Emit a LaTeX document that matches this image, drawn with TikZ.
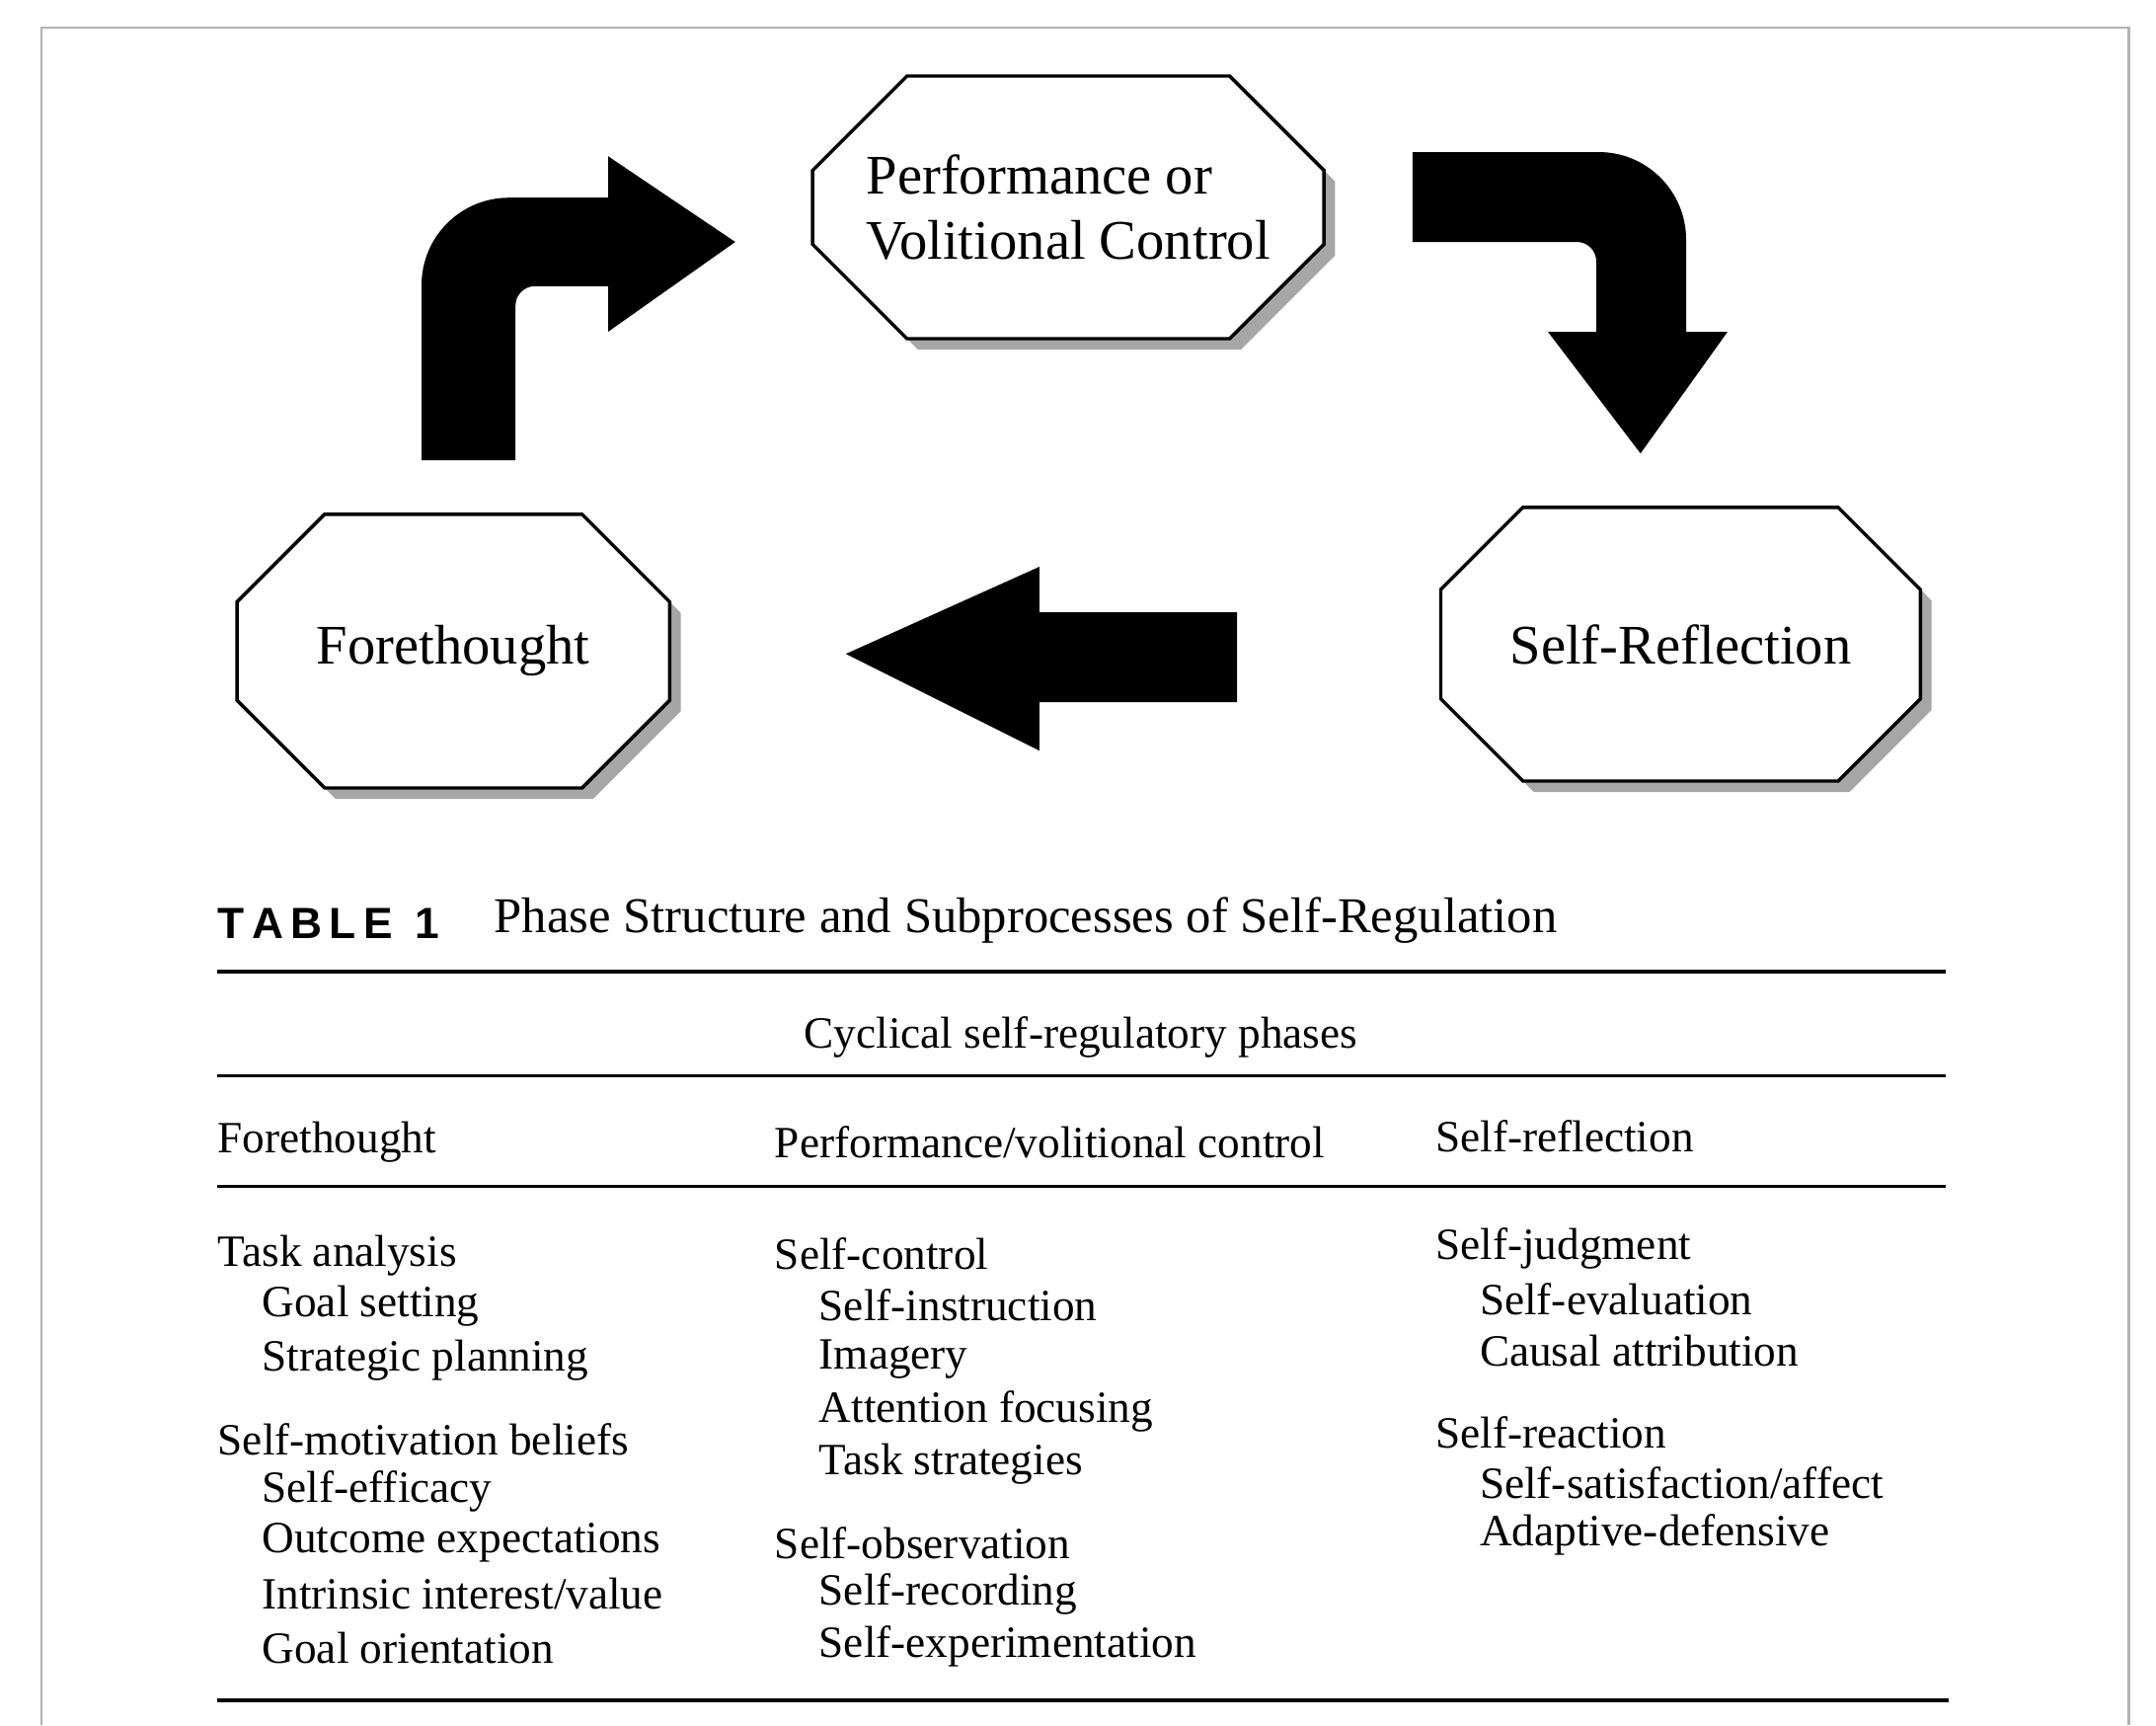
\documentclass[tikz,border=0pt]{standalone}
\usepackage{fontspec}
\setmainfont{Liberation Serif}
\newfontfamily\capfont{Liberation Sans}
\usetikzlibrary{shapes.misc,shadows}

\tikzset{
  phase/.style={chamfered rectangle, draw=black, line width=0.7pt, fill=white,
    chamfered rectangle xsep=4.5mm, chamfered rectangle ysep=4.5mm,
    inner sep=0pt, align=left, font=\fontsize{11.5}{13.5}\selectfont,
    drop shadow={shadow xshift=0.8mm, shadow yshift=-0.8mm, fill=gray!70, opacity=1}},
  bigarrow/.style={fill=black, draw=none},
  entry/.style={anchor=west, inner sep=0pt, font=\fontsize{9.2}{11}\selectfont},
  rule/.style={line width=0.9pt}
}

\begin{document}
\begin{tikzpicture}[x=0.1mm,y=-0.1mm]
  \useasboundingbox (0,0) rectangle (1560,1248);
  %Frame
  \draw[gray!60, line width=0.6pt] (30,1248) -- (30,20) -- (1540,20) -- (1540,1248);

  %Phases
  \node[phase, minimum width=37mm, minimum height=19mm, chamfered rectangle ysep=3mm] (perf) at (773,150) {Performance or\\Volitional Control};
  \node[phase, minimum width=31.3mm, minimum height=19.8mm] (fore) at (328,471) {Forethought};
  \node[phase, minimum width=34.7mm, minimum height=19.8mm] (refl) at (1216,466) {Self-Reflection};

  %Arrows
  \fill[bigarrow] (305,333) [rounded corners=18pt] -- (305,143) [sharp corners] -- (440,143) -- (440,113)
    -- (532,175) -- (440,240) -- (440,207) [rounded corners=4pt] -- (373,207) [sharp corners] -- (373,333) -- cycle;
  \fill[bigarrow] (1022,110) [rounded corners=18pt] -- (1220,110) [sharp corners] -- (1220,240) -- (1250,240)
    -- (1187,328) -- (1120,240) -- (1155,240) [rounded corners=4pt] -- (1155,175) [sharp corners] -- (1022,175) -- cycle;
  \fill[bigarrow] (895,443) -- (752,443) -- (752,410) -- (612,473) -- (752,543) -- (752,508) -- (895,508) -- cycle;

  %Table
  \node[entry, font=\capfont\bfseries\fontsize{9}{11}\selectfont] (tab) at (157,668) {T\,A\,B\,L\,E\enspace 1};
  \node[entry, font=\fontsize{10.3}{12}\selectfont] (cap) at (357,666) {Phase Structure and Subprocesses of Self-Regulation};
  \draw[rule] (157,703) -- (1408,703);
  \node[entry, anchor=center] (cyc) at (782,750) {Cyclical self-regulatory phases};
  \draw[line width=0.6pt] (157,778) -- (1408,778);
  \node[entry] (h1) at (157,826) {Forethought};
  \node[entry] (h2) at (560,826) {Performance/volitional control};
  \node[entry] (h3) at (1038,822) {Self-reflection};
  \draw[line width=0.6pt] (157,858) -- (1408,858);
  \foreach \x/\y/\t in {157/908/Task analysis, 189/945/Goal setting, 189/984/Strategic planning,
      157/1041/Self-motivation beliefs, 189/1079/Self-efficacy, 189/1116/Outcome expectations,
      189/1153/{Intrinsic interest/value}, 189/1192/Goal orientation,
      560/907/Self-control, 592/944/Self-instruction, 592/983/Imagery, 592/1021/Attention focusing,
      592/1059/Task strategies, 560/1116/Self-observation, 592/1153/Self-recording,
      592/1191/Self-experimentation,
      1038/903/Self-judgment, 1070/940/Self-evaluation, 1070/977/Causal attribution,
      1038/1036/Self-reaction, 1070/1073/{Self-satisfaction/affect}, 1070/1110/Adaptive-defensive}
    \node[entry] at (\x,\y) {\t};
  \draw[rule] (157,1230) -- (1410,1230);
\end{tikzpicture}
\end{document}
